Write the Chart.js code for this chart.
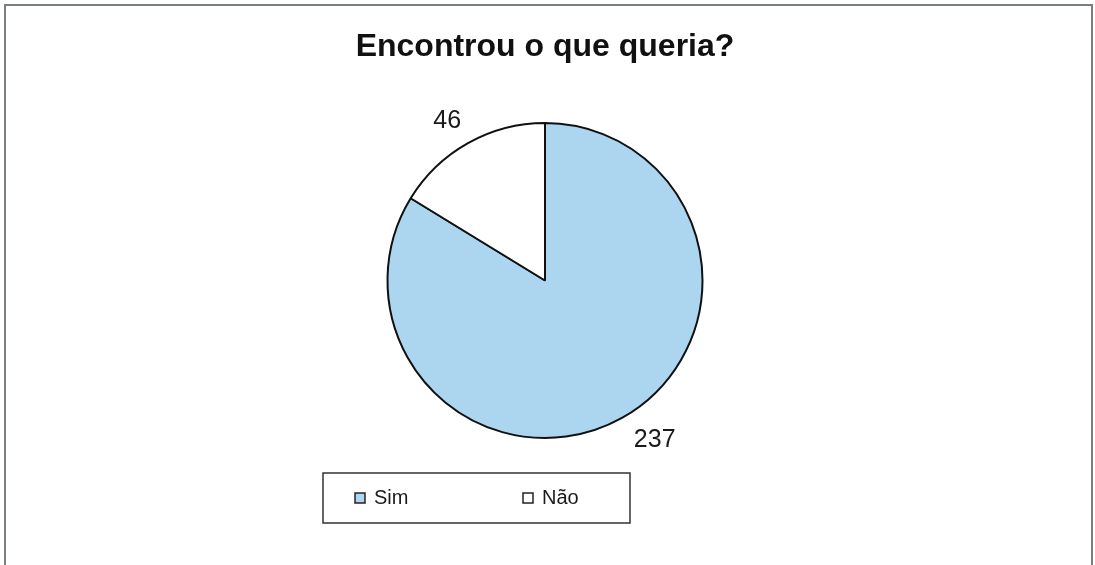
<!DOCTYPE html>
<html>
<head>
<meta charset="utf-8">
<title>Encontrou o que queria?</title>
<script src="https://cdn.jsdelivr.net/npm/chart.js@4"></script>
<style>
  html, body { margin: 0; padding: 0; background: #fff; }
  #wrap { position: absolute; left: 0; top: 0; width: 1095px; height: 565px; }
</style>
</head>
<body>
<div id="wrap"><canvas id="pie"></canvas></div>
<script>
const chartTitle = 'Encontrou o que queria?';
const answers = ['Sim', 'Não'];
const counts = [237, 46];
const sliceColors = ['#acd5ef', '#ffffff'];

const FONT = "'Liberation Sans', Arial, sans-serif";

// outer frame around the whole chart
const framePlugin = {
  id: 'frame',
  beforeDraw(chart) {
    const c = chart.ctx;
    c.save();
    c.fillStyle = '#fff';
    c.fillRect(0, 0, chart.width, chart.height);
    c.strokeStyle = '#7a7f82';
    c.lineWidth = 2;
    c.strokeRect(5, 5, chart.width - 8, chart.height + 4);
    c.restore();
  }
};

// value labels just outside each slice, pushed out by half the text box
const valueLabels = {
  id: 'valueLabels',
  afterDatasetsDraw(chart) {
    const c = chart.ctx;
    const meta = chart.getDatasetMeta(0);
    c.save();
    c.font = '25px ' + FONT;
    c.fillStyle = '#1a1a1a';
    c.textAlign = 'center';
    c.textBaseline = 'middle';
    meta.data.forEach((arc, i) => {
      const p = arc.getProps(['x', 'y', 'startAngle', 'endAngle', 'outerRadius'], true);
      const mid = (p.startAngle + p.endAngle) / 2;
      const txt = String(chart.data.datasets[0].data[i]);
      const halfW = c.measureText(txt).width / 2;
      const r = p.outerRadius + 14;
      const dx = i === 0 ? 5 : 0;
      const x = p.x + Math.cos(mid) * r + Math.sign(Math.cos(mid)) * halfW + dx;
      const y = p.y + Math.sin(mid) * r + Math.sign(Math.sin(mid)) * 10;
      c.fillText(txt, x, y);
    });
    c.restore();
  }
};

// boxed legend under the pie
const boxLegend = {
  id: 'boxLegend',
  afterDraw(chart) {
    const c = chart.ctx;
    const area = chart.chartArea;
    const cx = (area.left + area.right) / 2;
    const left = cx - 222, top = area.bottom + 34, w = 307, h = 50;
    c.save();
    c.strokeStyle = '#333';
    c.lineWidth = 1.5;
    c.strokeRect(left, top, w, h);
    c.font = '20px ' + FONT;
    c.textBaseline = 'middle';
    const midY = top + h / 2;
    chart.data.labels.forEach((lab, i) => {
      const x = left + 32 + i * 168;
      c.fillStyle = chart.data.datasets[0].backgroundColor[i];
      c.fillRect(x, midY - 5, 10, 10);
      c.strokeStyle = '#222';
      c.lineWidth = 1.5;
      c.strokeRect(x, midY - 5, 10, 10);
      c.fillStyle = '#1a1a1a';
      c.fillText(lab, x + 19, midY);
    });
    c.restore();
  }
};

new Chart(document.getElementById('pie'), {
  type: 'pie',
  data: {
    labels: answers,
    datasets: [{
      data: counts,
      backgroundColor: sliceColors,
      borderColor: '#111',
      borderWidth: 2
    }]
  },
  options: {
    responsive: true,
    maintainAspectRatio: false,
    animation: false,
    layout: { padding: { top: 28, bottom: 126, left: 0, right: 5 } },
    plugins: {
      legend: { display: false },
      tooltip: { enabled: false },
      title: {
        display: true,
        text: chartTitle,
        color: '#111',
        font: { family: FONT, size: 32, weight: 'bold' },
        padding: { top: 0, bottom: 55.6 }
      }
    }
  },
  plugins: [framePlugin, valueLabels, boxLegend]
});
</script>
</body>
</html>
